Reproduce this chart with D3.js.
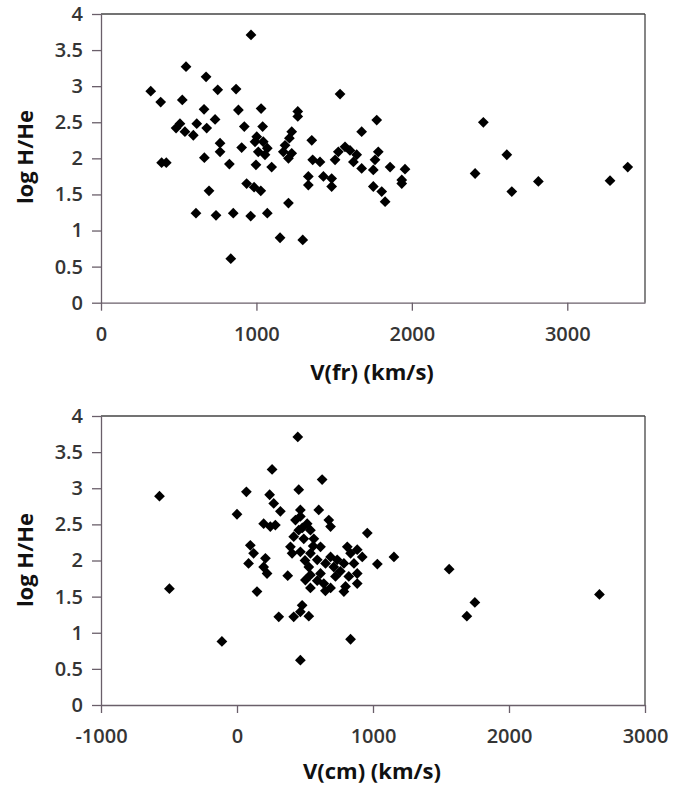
<!DOCTYPE html>
<html><head><meta charset="utf-8">
<script src="https://cdn.jsdelivr.net/npm/d3@7"></script>
<style>body{margin:0;background:#fff}svg{display:block}</style>
</head><body>
<svg id="c" width="696" height="792"></svg>
<script>
// ---- Data ----
const yTicks = [0, 0.5, 1, 1.5, 2, 2.5, 3, 3.5, 4];
const yTickLabels = ["0", "0.5", "1", "1.5", "2", "2.5", "3", "3.5", "4"];
const xTicksTop = [0, 1000, 2000, 3000];
const xTickLabelsTop = ["0", "1000", "2000", "3000"];
const xTicksBottom = [-1000, 0, 1000, 2000, 3000];
const xTickLabelsBottom = ["-1000", "0", "1000", "2000", "3000"];
const yTitle = "log H/He";
const xTitleTop = "V(fr) (km/s)";
const xTitleBottom = "V(cm) (km/s)";

const vfr = [965,547,676,320,384,523,751,869,663,884,1030,1266,1266,508,483,540,594,616,680,734,922,1040,766,766,905,1002,1044,1070,1012,1055,991,1227,1212,1184,1227,1173,1206,1356,390,420,665,826,997,1098,1362,1409,1334,1334,1431,695,937,985,1028,1206,611,740,851,963,1070,1152,1298,835,1538,1774,1677,1570,1527,1506,1602,1645,1624,1677,1784,1763,1752,1860,1956,1935,1752,1806,1828,1484,1484,2460,2611,2407,2814,2643,3275,3389,1935];
const logHHeTop = [3.71,3.27,3.13,2.93,2.78,2.81,2.95,2.96,2.68,2.67,2.69,2.65,2.58,2.48,2.42,2.37,2.32,2.48,2.42,2.54,2.44,2.44,2.21,2.09,2.15,2.30,2.23,2.14,2.09,2.05,2.23,2.37,2.28,2.18,2.07,2.09,2.00,2.25,1.94,1.94,2.01,1.92,1.91,1.88,1.98,1.95,1.75,1.63,1.75,1.55,1.65,1.60,1.55,1.38,1.24,1.21,1.24,1.20,1.24,0.90,0.87,0.61,2.89,2.53,2.37,2.16,2.09,1.98,2.11,2.05,1.95,1.86,2.09,1.98,1.84,1.88,1.85,1.70,1.61,1.54,1.40,1.72,1.61,2.50,2.05,1.79,1.68,1.54,1.69,1.88,1.65];

const vcm = [447,258,626,69,454,0,240,270,319,196,245,282,466,601,675,688,430,466,516,540,454,417,491,565,614,393,405,466,540,590,528,540,503,540,614,638,688,724,712,651,688,737,811,835,884,786,860,921,884,822,798,786,884,958,1032,1154,98,122,85,209,196,221,373,147,479,417,466,528,307,-111,835,466,-570,-497,1560,1749,1690,2665,480,560,590,760,650,500];
const logHHeBottom = [3.71,3.26,3.12,2.95,2.98,2.64,2.91,2.79,2.68,2.51,2.47,2.49,2.70,2.70,2.56,2.47,2.56,2.61,2.51,2.42,2.42,2.33,2.30,2.30,2.19,2.19,2.10,2.12,2.10,2.01,1.91,1.80,1.73,1.62,1.82,1.68,1.62,1.78,1.91,1.96,2.05,2.01,2.19,2.10,2.15,1.96,1.96,2.05,1.82,1.78,1.64,1.57,1.68,2.38,1.95,2.05,2.21,2.10,1.96,2.03,1.91,1.82,1.79,1.57,1.38,1.22,1.29,1.23,1.22,0.88,0.91,0.62,2.89,1.61,1.88,1.42,1.23,1.53,2.45,2.20,1.72,1.85,1.58,2.00];

// ---- Drawing ----
const svg = d3.select("#c");
const font = "'Open Sans', Lato, sans-serif";

function drawPanel(cfg) {
  const g = svg.append("g");
  const x = d3.scaleLinear().domain(cfg.xDomain).range([101, 645]);
  const y = d3.scaleLinear().domain([0, 4]).range([cfg.bottom, cfg.top]);

  // frame top/right
  g.append("line").attr("x1", x.range()[0]).attr("x2", x.range()[1]).attr("y1", cfg.top).attr("y2", cfg.top)
    .attr("stroke", "#444").attr("stroke-width", 1.3);
  g.append("line").attr("x1", x.range()[1]).attr("x2", x.range()[1]).attr("y1", cfg.top).attr("y2", cfg.bottom)
    .attr("stroke", "#444").attr("stroke-width", 1.3);

  // y axis
  const ya = g.append("g").attr("transform", `translate(${x.range()[0]},0)`)
    .call(d3.axisLeft(y).tickValues(yTicks).tickFormat((d, i) => yTickLabels[i]).tickSize(9).tickSizeOuter(0).tickPadding(9));
  ya.select(".domain").attr("stroke", "#6a5f6a").attr("stroke-width", 1.3);
  ya.selectAll(".tick line").attr("stroke", "#6a5f6a").attr("stroke-width", 1.3);
  ya.selectAll(".tick text").attr("font-family", font).attr("font-size", 20).attr("font-weight", 600).attr("fill", "#353535");

  // x axis
  const xa = g.append("g").attr("transform", `translate(0,${cfg.bottom})`)
    .call(d3.axisBottom(x).tickValues(cfg.xTicks).tickFormat((d, i) => cfg.xLabels[i]).tickSize(8).tickSizeOuter(0).tickPadding(16));
  xa.select(".domain").attr("stroke", "#6a5f6a").attr("stroke-width", 1.3);
  xa.selectAll(".tick line").attr("stroke", "#6a5f6a").attr("stroke-width", 1.3);
  xa.selectAll(".tick text").attr("font-family", font).attr("font-size", 20).attr("font-weight", 600).attr("fill", "#353535");

  // points
  const sym = d3.symbol().type(d3.symbolSquare).size(58);
  g.append("g").selectAll("path").data(cfg.xs.map((v, i) => [v, cfg.ys[i]])).join("path")
    .attr("d", sym)
    .attr("transform", d => `translate(${x(d[0])},${y(d[1])}) rotate(45)`)
    .attr("fill", "#000");

  // titles
  g.append("text").attr("transform", `translate(33,${cfg.yTitleY}) rotate(-90)`)
    .attr("text-anchor", "middle").attr("font-family", font).attr("font-size", 22).attr("font-weight", 700)
    .attr("fill", "#111").text(yTitle);
  g.append("text").attr("x", cfg.xTitleX).attr("y", cfg.xTitleY)
    .attr("text-anchor", "middle").attr("font-family", font).attr("font-size", 22).attr("font-weight", 700)
    .attr("fill", "#111").text(cfg.xTitle);
}

drawPanel({xDomain: [0, 3500], xTicks: xTicksTop, xLabels: xTickLabelsTop, top: 14, bottom: 302.7,
  xs: vfr, ys: logHHeTop, yTitleY: 157, xTitle: xTitleTop, xTitleX: 372, xTitleY: 380});
drawPanel({xDomain: [-1000, 3000], xTicks: xTicksBottom, xLabels: xTickLabelsBottom, top: 416, bottom: 705,
  xs: vcm, ys: logHHeBottom, yTitleY: 560, xTitle: xTitleBottom, xTitleX: 372, xTitleY: 779});
</script>
</body></html>
